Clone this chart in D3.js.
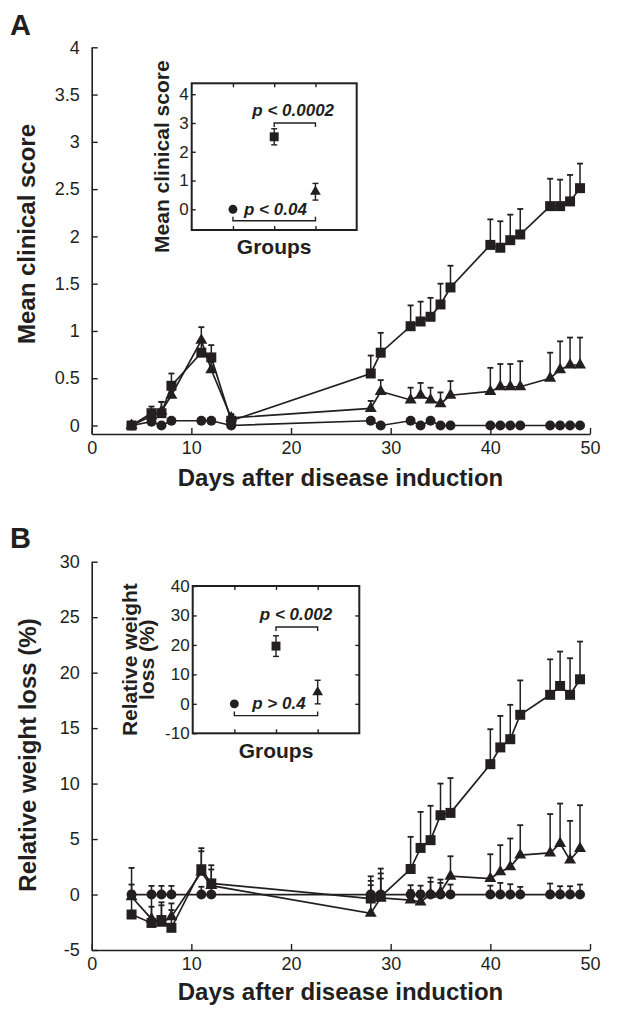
<!DOCTYPE html>
<html><head><meta charset="utf-8">
<script src="https://cdn.jsdelivr.net/npm/d3@7"></script>
<style>
body{margin:0;background:#fff}
svg{display:block}
text{font-family:"Liberation Sans",Arial,Helvetica,sans-serif;fill:#231f20}
</style>
</head><body>
<svg id="c" width="619" height="1016"></svg>
<script>
// ---------- DATA ----------
const xTicks = [0, 10, 20, 30, 40, 50];
const yTicksA = [0, 0.5, 1, 1.5, 2, 2.5, 3, 3.5, 4];
const yTicksB = [-5, 0, 5, 10, 15, 20, 25, 30];
const insetTicksA = [0, 1, 2, 3, 4];
const insetTicksB = [-10, 0, 10, 20, 30, 40];

// Panel A: mean clinical score
const daysA = [4, 6, 7, 8, 11, 12, 14, 28, 29, 32, 33, 34, 35, 36, 40, 41, 42, 43, 46, 47, 48, 49];
const A_circle = [0, 0.04, 0, 0.05, 0.05, 0.05, 0, 0.05, 0, 0.05, 0, 0.05, 0, 0, 0, 0, 0, 0, 0, 0, 0, 0];
const A_triangle = [0, 0.1, 0.15, 0.32, 0.9, 0.59, 0.08, 0.18, 0.36, 0.27, 0.32, 0.27, 0.23, 0.32, 0.36, 0.41, 0.41, 0.41, 0.5, 0.59, 0.64, 0.64];
const A_triangleErr = [0, 0.05, 0.1, 0.08, 0.14, 0.08, 0.04, 0.08, 0.12, 0.13, 0.13, 0.13, 0.12, 0.15, 0.25, 0.24, 0.24, 0.27, 0.27, 0.3, 0.29, 0.29];
const A_square = [0, 0.13, 0.13, 0.42, 0.77, 0.72, 0.05, 0.55, 0.77, 1.05, 1.1, 1.15, 1.28, 1.46, 1.91, 1.88, 1.96, 2.02, 2.32, 2.32, 2.37, 2.51];
const A_squareErr = [0, 0.07, 0.12, 0.13, 0.12, 0.13, 0.06, 0.19, 0.21, 0.22, 0.21, 0.2, 0.22, 0.23, 0.27, 0.28, 0.27, 0.27, 0.29, 0.28, 0.28, 0.26];

// Panel B: relative weight loss (%)
const daysB = [4, 6, 7, 8, 11, 12, 28, 29, 32, 33, 34, 35, 36, 40, 41, 42, 43, 46, 47, 48, 49];
const B_circle = [0, 0, 0, 0, 0, 0, 0, 0, 0, 0, 0, 0, 0, 0, 0, 0, 0, 0, 0, 0, 0];
const B_circleErr = [0.9, 0.78, 0.78, 0.78, 0.7, 0.69, 0.84, 1.44, 0.84, 0.8, 1.14, 1.05, 0.9, 0.8, 1.05, 0.93, 0.69, 0.99, 0.75, 0.75, 0.9];
const B_triangle = [-0.2, -2.2, -2.6, -2.0, 2.0, 0.8, -1.7, -0.3, -0.5, -0.67, 0.0, 0.2, 1.65, 1.44, 2.04, 2.49, 3.55, 3.75, 4.6, 3.1, 4.15];
const B_triangleErr = [0.5, 1.1, 1.63, 0.6, 1.9, 1.46, 2.93, 2.2, 0.9, 1.0, 1.53, 1.15, 1.8, 2.19, 2.41, 2.56, 2.7, 3.5, 3.6, 3.54, 3.9];
const B_square = [-1.8, -2.56, -2.3, -3.0, 2.28, 1.0, -0.36, -0.2, 2.3, 4.2, 4.9, 7.15, 7.36, 11.75, 13.26, 14.0, 16.2, 18.0, 18.8, 18.0, 19.4];
const B_squareErr = [4.2, 2.5, 1.6, 2.2, 1.9, 1.64, 2.0, 2.54, 2.9, 3.25, 3.1, 2.85, 3.14, 3.15, 2.84, 3.1, 3.1, 3.2, 3.1, 3.3, 3.4];

// Insets (groups 1: circle, 2: square, 3: triangle)
const groups = [1, 2, 3];
const groupShapes = ["circle", "square", "triangle"];
const insetA_mean = [0, 2.52, 0.61];
const insetA_err = [0, 0.28, 0.29];
const insetB_mean = [0, 19.6, 4.0];
const insetB_err = [0, 3.5, 4.0];

// ---------- DRAWING ----------
const ink = "#231f20";
const svg = d3.select("#c");
const symType = {circle: d3.symbolCircle, square: d3.symbolSquare, triangle: d3.symbolTriangle};
const symSize = {circle: 78, square: 100, triangle: 62};

function drawMarkers(g, pts, shape, scale) {
  g.selectAll(null).data(pts).join("path")
    .attr("transform", d => `translate(${d.x},${d.y})`)
    .attr("d", d3.symbol().type(symType[shape]).size(symSize[shape] * (scale || 1)))
    .attr("fill", ink);
}

function styleAxis(a, fs) {
  a.selectAll("path.domain").attr("stroke", ink).attr("stroke-width", 1.6);
  a.selectAll(".tick line").attr("stroke", ink).attr("stroke-width", 1.4);
  a.selectAll(".tick text").attr("font-size", fs).attr("fill", ink)
    .style("font-family", '"Liberation Sans",Arial,sans-serif');
}

function mainPanel(o) {
  const x = d3.scaleLinear().domain([0, 50]).range([91.7, 590]);
  const y = d3.scaleLinear().domain(o.yDomain).range(o.yRange);
  const g = svg.append("g");

  const xa = g.append("g").attr("transform", `translate(0,${o.yRange[0]})`)
    .call(d3.axisBottom(x).tickValues(xTicks).tickSize(-6).tickSizeOuter(0).tickPadding(7).tickFormat(d => String(d)));
  styleAxis(xa, 18);
  const ya = g.append("g").attr("transform", `translate(${x(0)},0)`)
    .call(d3.axisLeft(y).tickValues(o.yTicks).tickSize(-6).tickSizeOuter(0).tickPadding(12).tickFormat(d => String(d)));
  styleAxis(ya, 18);

  const line = d3.line().x(d => d.x).y(d => d.y);
  o.series.forEach(s => {
    const pts = s.days.map((d, i) => ({x: x(d), y: y(s.vals[i]), top: s.err ? y(s.vals[i] + s.err[i]) : null}));
    g.append("path").attr("d", line(pts)).attr("fill", "none").attr("stroke", ink).attr("stroke-width", 1.7);
    if (s.err) {
      const eb = g.append("g").attr("stroke", ink).attr("stroke-width", 1.5);
      pts.forEach(p => {
        if (Math.abs(p.top - p.y) < 0.5) return;
        eb.append("line").attr("x1", p.x).attr("x2", p.x).attr("y1", p.y).attr("y2", p.top);
        eb.append("line").attr("x1", p.x - 3).attr("x2", p.x + 3).attr("y1", p.top).attr("y2", p.top).attr("stroke-width", 1.8);
      });
    }
    drawMarkers(g, pts, s.shape);
  });

  g.append("text").attr("x", 340.5).attr("y", o.xLabelY).attr("text-anchor", "middle")
    .attr("font-size", 24).attr("font-weight", "bold").text("Days after disease induction");
  g.append("text").attr("transform", `translate(${o.yLabelX},${o.yLabelCY}) rotate(-90)`)
    .attr("text-anchor", "middle").attr("font-size", 24).attr("font-weight", "bold").text(o.yLabel);
  g.append("text").attr("x", 10).attr("y", o.letterY).attr("font-size", 29).attr("font-weight", "bold").text(o.letter);
}

function inset(o) {
  const xi = d3.scaleLinear().domain([0, 4]).range([o.x0, o.x1]);
  const yi = d3.scaleLinear().domain(o.yDomain).range([o.y1, o.y0]);
  const g = svg.append("g");
  g.append("rect").attr("x", o.x0).attr("y", o.y0).attr("width", o.x1 - o.x0).attr("height", o.y1 - o.y0)
    .attr("fill", "#fff").attr("stroke", ink).attr("stroke-width", 2);

  const la = g.append("g").attr("transform", `translate(${o.x0},0)`)
    .call(d3.axisLeft(yi).tickValues(o.yTicks).tickSize(-4).tickSizeOuter(0).tickPadding(3).tickFormat(d => String(d)));
  la.select("path.domain").remove();
  styleAxis(la, 17);
  if (o.rightTicks) {
    const ra = g.append("g").attr("transform", `translate(${o.x1},0)`)
      .call(d3.axisRight(yi).tickValues(o.yTicks.slice(1, -1)).tickSize(-4).tickSizeOuter(0).tickFormat(""));
    ra.select("path.domain").remove(); styleAxis(ra, 17);
  }
  const ta = g.append("g").attr("transform", `translate(0,${o.y0})`)
    .call(d3.axisTop(xi).tickValues(groups).tickSize(-4).tickSizeOuter(0).tickFormat(""));
  ta.select("path.domain").remove(); styleAxis(ta, 17);
  const ba = g.append("g").attr("transform", `translate(0,${o.y1})`)
    .call(d3.axisBottom(xi).tickValues(groups).tickSize(-4).tickSizeOuter(0).tickFormat(""));
  ba.select("path.domain").remove(); styleAxis(ba, 17);

  const eb = g.append("g").attr("stroke", ink).attr("stroke-width", 1.4);
  groups.forEach((gr, i) => {
    const e = o.err[i];
    if (e > 0) {
      const cx = xi(gr), lo = yi(o.mean[i] - e), hi = yi(o.mean[i] + e);
      eb.append("line").attr("x1", cx).attr("x2", cx).attr("y1", lo).attr("y2", hi);
      [lo, hi].forEach(v => eb.append("line").attr("x1", cx - 3).attr("x2", cx + 3).attr("y1", v).attr("y2", v));
    }
    drawMarkers(g, [{x: xi(gr), y: yi(o.mean[i])}], groupShapes[i], 0.8);
  });

  const br = g.append("g").attr("stroke", ink).attr("stroke-width", 1.4).attr("fill", "none");
  o.brackets.forEach(b => {
    const yb = yi(b.y), dir = b.down ? 1 : -1;
    br.append("path").attr("d", `M${xi(b.from)},${yb + 4 * dir}V${yb}H${xi(b.to)}V${yb + 4 * dir}`);
    g.append("text").attr("x", xi(b.tx)).attr("y", yi(b.ty)).attr("text-anchor", "middle")
      .attr("font-size", 17).attr("font-weight", "bold").attr("font-style", "italic").text(b.text);
  });

  g.append("text").attr("x", xi(2)).attr("y", o.groupsY).attr("text-anchor", "middle")
    .attr("font-size", 21).attr("font-weight", "bold").text("Groups");
  const lab = g.append("text").attr("transform", `translate(0,${(o.y0 + o.y1) / 2}) rotate(-90)`)
    .attr("text-anchor", "middle").attr("font-size", 21).attr("font-weight", "bold");
  o.label.forEach((t, i) => lab.append("tspan").attr("x", 0).attr("y", o.labelX[i]).text(t));
}

mainPanel({
  yDomain: [-0.09, 4], yRange: [434, 47.3], yTicks: yTicksA,
  series: [
    {days: daysA, vals: A_triangle, err: A_triangleErr, shape: "triangle"},
    {days: daysA, vals: A_circle, shape: "circle"},
    {days: daysA, vals: A_square, err: A_squareErr, shape: "square"}
  ],
  xLabelY: 486, yLabel: "Mean clinical score", yLabelX: 35, yLabelCY: 234, letter: "A", letterY: 35
});

mainPanel({
  yDomain: [-5, 30], yRange: [950, 561.7], yTicks: yTicksB,
  series: [
    {days: daysB, vals: B_triangle, err: B_triangleErr, shape: "triangle"},
    {days: daysB, vals: B_circle, err: B_circleErr, shape: "circle"},
    {days: daysB, vals: B_square, err: B_squareErr, shape: "square"}
  ],
  xLabelY: 1000, yLabel: "Relative weight loss (%)", yLabelX: 36, yLabelCY: 755, letter: "B", letterY: 548
});

inset({
  x0: 191.7, x1: 356.7, y0: 83.3, y1: 230, yDomain: [-0.72, 4.38], yTicks: insetTicksA, rightTicks: false,
  mean: insetA_mean, err: insetA_err,
  brackets: [
    {from: 2, to: 3, y: 3.0, down: true, text: "p < 0.0002", tx: 2.46, ty: 3.26},
    {from: 1, to: 3, y: -0.4, down: false, text: "p < 0.04", tx: 2.03, ty: -0.2}
  ],
  groupsY: 253.5, label: ["Mean clinical score"], labelX: [169]
});

inset({
  x0: 192.7, x1: 359.3, y0: 586, y1: 733.3, yDomain: [-10, 40], yTicks: insetTicksB, rightTicks: true,
  mean: insetB_mean, err: insetB_err,
  brackets: [
    {from: 2, to: 3, y: 26.1, down: true, text: "p < 0.002", tx: 2.48, ty: 28.4},
    {from: 1, to: 3, y: -4, down: false, text: "p > 0.4", tx: 2.07, ty: -1.7}
  ],
  groupsY: 757.5, label: ["Relative weight", "loss (%)"], labelX: [137, 154]
});
</script>
</body></html>
